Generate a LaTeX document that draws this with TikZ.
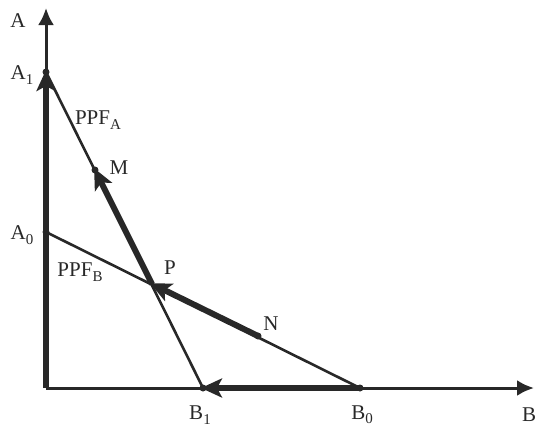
\documentclass[tikz,border=0pt]{standalone}
\usepackage{fontspec}
\setmainfont{Liberation Serif}
\usetikzlibrary{arrows.meta}
\definecolor{ink}{RGB}{40,40,40}
\newcommand{\sbs}[1]{\raisebox{-0.45ex}{\fontsize{15}{15}\selectfont #1}}
\tikzset{
  axis/.style={draw=ink, line width=3pt, -{Latex[length=17pt,width=16pt]}},
  ppf/.style={draw=ink, line width=2.6pt},
  move/.style={draw=ink, line width=6pt, -{Stealth[length=21pt,width=19pt,inset=5pt]}, shorten >=-2pt},
  pt/.style={circle, fill=ink, inner sep=0pt, minimum size=7pt},
  lbl/.style={text=ink, font=\fontsize{21}{23}\selectfont, inner sep=1pt}
}
\begin{document}
\begin{tikzpicture}[x=1pt,y=-1pt]
\useasboundingbox (0,0) rectangle (535,426);
% coordinates
\coordinate (O) at (46,388);
\coordinate (Atop) at (46,8);
\coordinate (Bend) at (534,388);
\node[pt] (A1) at (46,72) {};
\node[pt] (A0) at (46,232) {};
\node[pt] (B1) at (203,388) {};
\node[pt] (B0) at (360,388) {};
\coordinate (P) at (152,284);
\node[pt] (M) at (95,170) {};
\node[pt] (N) at (258,336) {};
% axes
\draw[axis] (O) -- (Atop);
\draw[axis] (O) -- (Bend);
% PPF lines
\draw[ppf] (A1.center) -- (B1.center);
\draw[ppf] (A0.center) -- (B0.center);
% movement arrows
\draw[move, shorten <=0pt] (O) -- (A1.center);
\draw[move] (B0.center) -- (B1.center);
\draw[move] (N.center) -- (P);
\draw[move] (P) -- (M.center);
% labels
\node[lbl] (lA) at (18,21) {A};
\node[lbl] (lA1) at (22,75) {A\sbs{1}};
\node[lbl] (lA0) at (22,235) {A\sbs{0}};
\node[lbl] (lPPFA) at (98,120) {PPF\sbs{A}};
\node[lbl] (lPPFB) at (80,272) {PPF\sbs{B}};
\node[lbl] (lP) at (170,268) {P};
\node[lbl] (lM) at (119,168) {M};
\node[lbl] (lN) at (271,324) {N};
\node[lbl] (lB1) at (200,415) {B\sbs{1}};
\node[lbl] (lB0) at (362,415) {B\sbs{0}};
\node[lbl, anchor=west] (lB) at (521,415) {B};
\end{tikzpicture}
\end{document}
